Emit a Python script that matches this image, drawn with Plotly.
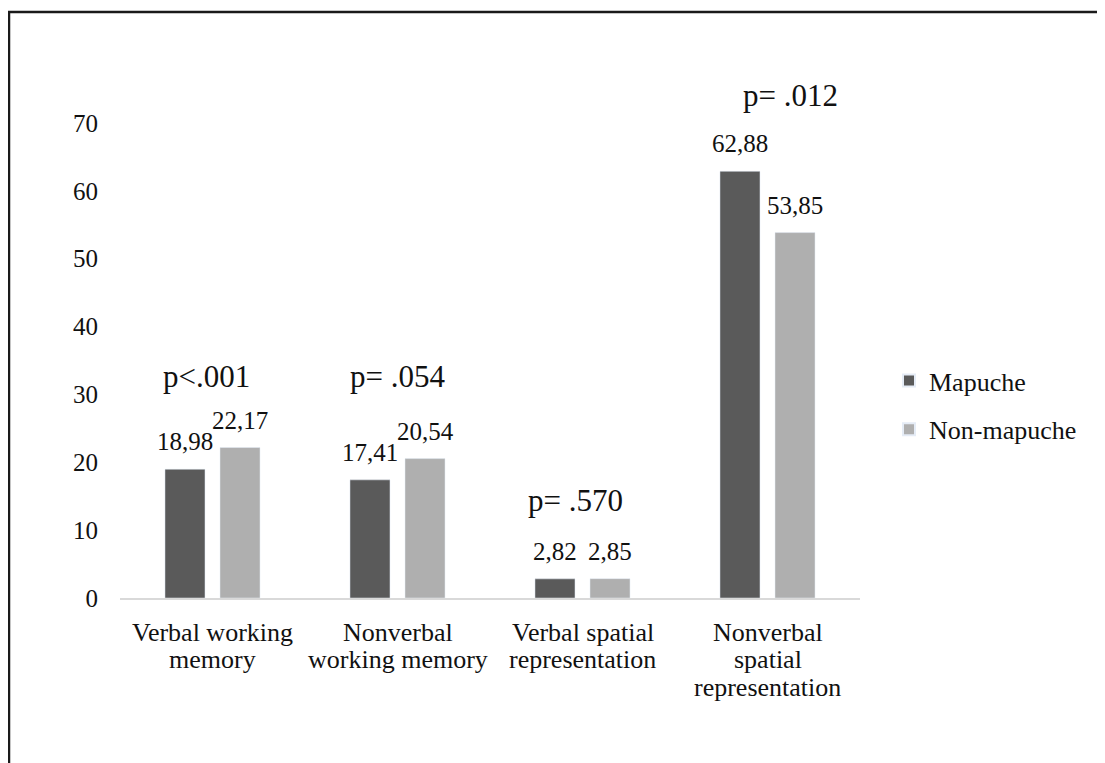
import plotly.graph_objects as go

categories = ["Verbal working memory", "Nonverbal working memory",
              "Verbal spatial representation", "Nonverbal spatial representation"]
category_lines = [["Verbal working", "memory"], ["Nonverbal", "working memory"],
                  ["Verbal spatial", "representation"], ["Nonverbal", "spatial", "representation"]]
mapuche = [18.98, 17.41, 2.82, 62.88]
non_mapuche = [22.17, 20.54, 2.85, 53.85]
mapuche_labels = ["18,98", "17,41", "2,82", "62,88"]
non_mapuche_labels = ["22,17", "20,54", "2,85", "53,85"]
p_labels = ["p<.001", "p= .054", "p= .570", "p= .012"]
p_heights = [32.6, 32.6, 14.4, 74.1]
y_ticks = [0, 10, 20, 30, 40, 50, 60, 70]
y_max = 70

FONT = "Liberation Serif"
W, H = 1105, 763
OFF = 8  # default page body margin
# plot area in screen pixels
PL, PT, PR, PB = 120, 123, 860, 598
pw, ph = PR - PL, PB - PT
P_XSHIFT = [-6, 0, -7, 23]  # horizontal nudges of the p-value labels (pixels)

def sx(px):
    return (px - PL) / pw

def sy(py):
    return (PB - py) / ph

fig = go.Figure()
fig.add_trace(go.Bar(name="Mapuche", x=categories, y=mapuche, marker_color="#5a5a5a",
                     legendgroup="a"))
fig.add_trace(go.Bar(name="Non-mapuche", x=categories, y=non_mapuche, marker_color="#afafaf",
                     legendgroup="b"))

txt = dict(family=FONT, size=25, color="#111")
ann = []
for i, c in enumerate(categories):
    ann.append(dict(x=c, y=mapuche[i], text=mapuche_labels[i], xshift=-27.5, yshift=12,
                    yanchor="bottom", showarrow=False, font=txt))
    ann.append(dict(x=c, y=non_mapuche[i], text=non_mapuche_labels[i], xshift=27.5, yshift=12,
                    yanchor="bottom", showarrow=False, font=txt))
    ann.append(dict(x=c, y=p_heights[i] / y_max, yref="y domain", text=p_labels[i],
                    xshift=P_XSHIFT[i], yanchor="middle", showarrow=False,
                    font=dict(family=FONT, size=31, color="#111")))
    for j, line in enumerate(category_lines[i]):
        ann.append(dict(x=c, y=0, yref="y domain", text=line, yshift=-34 - 27.5 * j,
                        yanchor="middle", showarrow=False, font=dict(family=FONT, size=26, color="#111")))

fig.update_layout(
    width=W, height=H,
    margin=dict(l=PL - OFF, r=W - (PR - OFF), t=PT - OFF, b=H - (PB - OFF)),
    plot_bgcolor="white", paper_bgcolor="white",
    barmode="group", bargap=0.405, bargroupgap=0.273,
    font=dict(family=FONT, size=25, color="#111"),
    showlegend=True,
    legend=dict(x=sx(889), y=sy(405), xanchor="left", yanchor="middle",
                font=dict(family=FONT, size=26, color="#111"), tracegroupgap=12,
                itemsizing="constant", bgcolor="rgba(0,0,0,0)"),
    annotations=ann,
    shapes=[dict(type="rect", xref="paper", yref="paper",
                 x0=sx(9), x1=sx(1130), y0=sy(800), y1=sy(12),
                 line=dict(color="#1a1a1a", width=2.5), fillcolor="rgba(0,0,0,0)")],
)
fig.update_xaxes(showline=True, linecolor="#d9d9d9", linewidth=2, ticks="",
                 showticklabels=False, showgrid=False)
fig.update_yaxes(range=[0, y_max], tickvals=y_ticks, showgrid=False, zeroline=False, showline=False,
                 ticks="", ticklabelstandoff=21,
                 tickfont=dict(family=FONT, size=25, color="#111"))

fig.write_html("out.html")
